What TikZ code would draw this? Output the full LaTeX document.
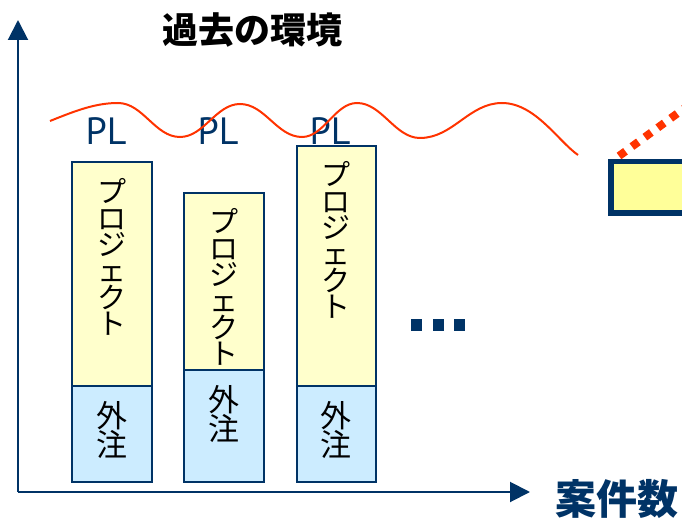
\documentclass[tikz,border=0pt]{standalone}
\usepackage{fontspec}
\usetikzlibrary{arrows.meta}
\newfontfamily\jp{Noto Sans CJK JP}
\newfontfamily\plfont{PT Sans}
\definecolor{navy}{HTML}{003366}
\definecolor{wavered}{HTML}{FF3300}
\definecolor{projyel}{HTML}{FFFFCC}
\definecolor{outblue}{HTML}{CCECFF}
\definecolor{boxyel}{HTML}{FFFF99}
\tikzset{
  axis/.style={draw=navy, line width=2pt, -{Triangle[length=20pt,width=20pt]}},
  projbox/.style={draw=navy, line width=1.5pt, fill=projyel},
  outbox/.style={draw=navy, line width=1.5pt, fill=outblue},
  projtext/.style={font=\jp\fontsize{29}{26.4}\selectfont, align=center, inner sep=0pt},
  outtext/.style={font=\jp\fontsize{31}{29}\selectfont, align=center, inner sep=0pt},
  pltext/.style={font=\plfont\fontsize{38}{40}\selectfont, text=navy, anchor=base, inner sep=0pt},
  dotsq/.style={fill=navy},
}
\begin{document}
\begin{tikzpicture}[x=1pt,y=-1pt]
\useasboundingbox (0,0) rectangle (682,518);
% axes
\coordinate (o) at (18,492);
\coordinate (ytip) at (18,20);
\coordinate (xtip) at (530,492);
\draw[axis] (o) -- (ytip);
\draw[axis] (o) -- (xtip);
\node[font=\jp\bfseries\fontsize{36}{38}\selectfont, inner sep=0pt] (title) at (252,30) {過去の環境};
\node[font=\jp\bfseries\fontsize{41}{43}\selectfont, text=navy, inner sep=0pt] (xlabel) at (617,499) {案件数};
% bars
\draw[projbox] (72,162) rectangle (152,386);
\draw[outbox] (72,386) rectangle (152,482);
\draw[projbox] (184,193) rectangle (264,370);
\draw[outbox] (184,370) rectangle (264,482);
\draw[projbox] (297,146) rectangle (376,386);
\draw[outbox] (297,386) rectangle (376,482);
\node[projtext] (p1) at (112,257) {プ\\ロ\\ジ\\ェ\\ク\\ト};
\node[projtext] (p2) at (224,287) {プ\\ロ\\ジ\\ェ\\ク\\ト};
\node[projtext] (p3) at (336,240) {プ\\ロ\\ジ\\ェ\\ク\\ト};
\node[outtext] (g1) at (112,430) {外\\注};
\node[outtext] (g2) at (224,414) {外\\注};
\node[outtext] (g3) at (336,430) {外\\注};
% PL labels
\node[pltext] (pl1) at (106,145) {PL};
\node[pltext] (pl2) at (218,145) {PL};
\node[pltext] (pl3) at (330,145) {PL};
% wave
\draw[wavered, line width=2pt] (50,121)
  .. controls (75,111) and (95,103) .. (118,103)
  .. controls (143,103) and (155,137) .. (180,137)
  .. controls (204,137) and (216,104) .. (240,104)
  .. controls (265,104) and (277,137) .. (302,137)
  .. controls (324,137) and (335,103) .. (357,103)
  .. controls (382,103) and (395,138) .. (420,138)
  .. controls (453,138) and (469,103) .. (502,103)
  .. controls (535,103) and (558,141) .. (578,155);
% dots
\fill[dotsq] (411,319) rectangle (422,331);
\fill[dotsq] (433,319) rectangle (444,331);
\fill[dotsq] (454,319) rectangle (465,331);
% right box and dotted line
\coordinate (rs) at (619,156);
\coordinate (re) at (704,94);
\draw[wavered, line width=8pt, dash pattern=on 8pt off 8pt] (rs) -- (re);
\draw[draw=navy, fill=boxyel, line width=5.5pt] (610.75,161.75) rectangle (700,213.25);
\end{tikzpicture}
\end{document}
